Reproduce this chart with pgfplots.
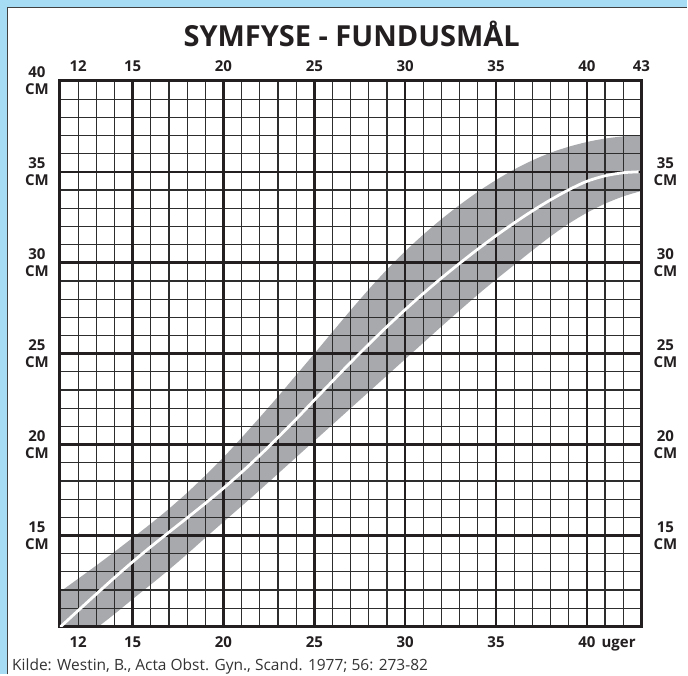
\documentclass[border=0pt]{standalone}
\usepackage{pgfplots}
\pgfplotsset{compat=1.18}
\usepgfplotslibrary{fillbetween}
\usepackage{fontspec}
\setmainfont{Open Sans}
\definecolor{bgblue}{RGB}{166,221,244}
\definecolor{bandgray}{RGB}{167,169,172}
\definecolor{gridc}{RGB}{45,45,45}
\definecolor{ink}{RGB}{35,31,32}
\pgfplotsset{
  layers/mine/.define layer set={bgpic,axis background,axis grid,axis ticks,axis lines,axis tick labels,pre main,main,axis descriptions,axis foreground}{},
  frame/.style={at={(60pt,48pt)}, anchor=south west,
    scale only axis, width=582pt, height=546pt,
    xmin=11, xmax=43, ymin=10, ymax=40,
    major tick length=0pt, minor tick length=0pt,
    tick label style={font=\fontsize{15}{17}\selectfont\bfseries, inner sep=0pt, text=ink}},
}

\begin{document}
\begin{tikzpicture}[x=1pt,y=1pt]
% main axis: band, grid, frame, median, bottom and left labels
\begin{axis}[frame,
  set layers=mine,
  axis line style={line width=3pt, ink},
  xtick={12,15,20,25,30,35,40},
  xticklabels={12,15,20,25,30,35,40},
  minor xtick={11,...,43},
  ytick={15,20,25,30,35,40},
  yticklabels={15\\CM,20\\CM,25\\CM,30\\CM,35\\CM,40\\CM},
  minor ytick={10,...,40},
  grid=both,
  major grid style={gridc, line width=1.2pt},
  minor grid style={gridc, line width=1.2pt},
  extra x ticks={15,20,25,30,35,40},
  extra x tick labels={},
  extra y ticks={15,20,25,30,35},
  extra y tick labels={},
  extra tick style={major grid style={ink, line width=2.6pt}},
  yticklabel style={align=center, xshift=-11pt},
  xticklabel style={anchor=north, yshift=-10pt},
]
\addplot[name path=U, draw=none, smooth] coordinates {
(11,11.9) (12,12.62) (13,13.35) (14,14.1) (15,14.87) (16,15.65) (17,16.47) (18,17.35)
(19,18.3) (20,19.3) (21,20.38) (22,21.5) (23,22.64) (24,23.82) (25,25.0) (26,26.2)
(27,27.39) (28,28.54) (29,29.63) (30,30.63) (31,31.55) (32,32.4) (33,33.18) (34,33.9)
(35,34.55) (36,35.13) (37,35.63) (38,36.05) (39,36.38) (40,36.64) (41,36.83) (42,36.95) (43,37.02)};
\addplot[name path=L, draw=none, smooth] coordinates {
(11,8.4) (12,9.15) (13,9.9) (14,10.68) (15,11.5) (16,12.3) (17,13.12) (18,13.98)
(19,14.87) (20,15.75) (21,16.62) (22,17.5) (23,18.4) (24,19.3) (25,20.2) (26,21.1)
(27,22.0) (28,22.9) (29,23.8) (30,24.7) (31,25.6) (32,26.5) (33,27.38) (34,28.25)
(35,29.08) (36,29.88) (37,30.68) (38,31.45) (39,32.15) (40,32.75) (41,33.25) (42,33.65) (43,33.95)};
\addplot[bandgray, on layer=axis background] fill between[of=U and L];
\addplot[white, line width=2.8pt, smooth] coordinates {
(11,9.95) (12,10.87) (13,11.78) (14,12.68) (15,13.55) (16,14.38) (17,15.18) (18,15.97)
(19,16.77) (20,17.6) (21,18.48) (22,19.41) (23,20.39) (24,21.4) (25,22.45) (26,23.49)
(27,24.52) (28,25.52) (29,26.49) (30,27.42) (31,28.31) (32,29.16) (33,29.97) (34,30.75)
(35,31.49) (36,32.19) (37,32.85) (38,33.46) (39,34.01) (40,34.48) (41,34.78) (42,34.95) (42.85,35.0)};
\end{axis}

\begin{pgfonlayer}{bgpic}
\fill[bgblue] (0,0) rectangle (688,675);
\fill[white] (7,0) rectangle (688,667);
\draw[black!75, line width=1.3pt] (7.6,0) -- (7.6,667.4) -- (688,667.4);
\end{pgfonlayer}

% top and right labels
\begin{axis}[frame,
  axis line style={draw=none},
  xtick={12,15,20,25,30,35,40,43},
  xticklabels={12,15,20,25,30,35,40,43},
  xticklabel pos=upper,
  ytick={15,20,25,30,35},
  yticklabels={15\\CM,20\\CM,25\\CM,30\\CM,35\\CM},
  yticklabel pos=upper,
  yticklabel style={align=center, xshift=12pt},
  xticklabel style={anchor=south, yshift=9pt},
]
\addplot[draw=none, forget plot] coordinates {(11,10) (43,40)};
\end{axis}

\node[font=\fontsize{15}{17}\selectfont\bfseries, text=ink, anchor=base west, inner sep=0pt]
  at (602,27.3) {uger};
\node[font=\fontsize{29}{31}\selectfont\bfseries, text=ink, anchor=base, inner sep=0pt]
  at (352,628) {SYMFYSE - FUNDUSMÅL};
\node[font=\fontsize{15.5}{17}\selectfont, text=black!80, anchor=base west, inner sep=0pt]
  at (12,3.5) {Kilde: Westin, B., Acta Obst. Gyn., Scand. 1977; 56: 273-82};
\end{tikzpicture}
\end{document}
